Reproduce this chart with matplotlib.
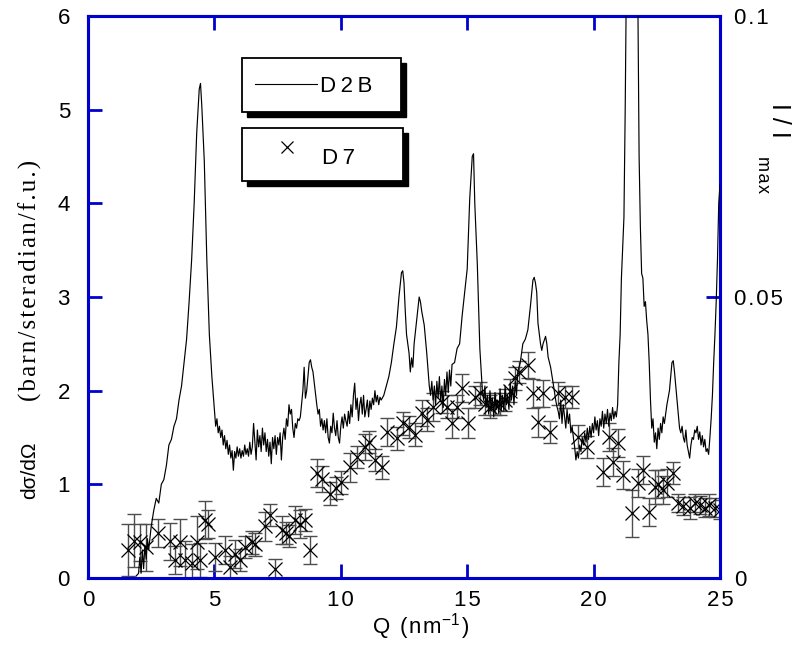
import numpy as np
import matplotlib
matplotlib.use("Agg")
import matplotlib.pyplot as plt
from matplotlib.patches import Rectangle
from matplotlib.lines import Line2D

plt.rcParams['font.family'] = ['Liberation Sans', 'DejaVu Sans']
plt.rcParams['mathtext.fontset'] = 'custom'
plt.rcParams['mathtext.rm'] = 'Liberation Sans'

BLUE = '#0000cc'

# D2B diffraction pattern, read in barn/sr/f.u. units of the left axis
d2b_q = [1.9, 2.0, 2.05, 2.1, 2.15, 2.2, 2.25, 2.3, 2.35, 2.4, 2.5, 2.6, 2.7, 2.8, 2.9,
         3.0, 3.1, 3.2, 3.3, 3.4, 3.5, 3.6, 3.7, 3.8, 3.9, 4.0, 4.1, 4.2, 4.3, 4.4,
         4.45, 4.5, 4.6, 4.7, 4.8, 4.9, 5.0, 5.05, 5.1, 5.15, 5.2, 5.25, 5.3, 5.35, 5.4,
         5.45, 5.5, 5.55, 5.6, 5.65, 5.7, 5.75, 5.8, 5.85, 5.9, 5.95, 6.0, 6.05, 6.1, 6.15,
         6.2, 6.25, 6.3, 6.35, 6.4, 6.45, 6.5, 6.55, 6.6, 6.65, 6.7, 6.75, 6.8, 6.85, 6.9,
         6.95, 7.0, 7.05, 7.1, 7.15, 7.2, 7.25, 7.3, 7.35, 7.4, 7.45, 7.5, 7.55, 7.6, 7.65,
         7.7, 7.75, 7.8, 7.85, 7.9, 7.95, 8.0, 8.05, 8.1, 8.15, 8.2, 8.25, 8.3, 8.35, 8.4,
         8.5, 8.55, 8.6, 8.65, 8.7, 8.75, 8.8, 8.85, 8.9, 8.95, 9.0, 9.05, 9.1, 9.15, 9.2,
         9.25, 9.3, 9.35, 9.4, 9.45, 9.5, 9.55, 9.6, 9.65, 9.7, 9.75, 9.8, 9.85, 9.9, 9.95,
         10.0, 10.05, 10.1, 10.15, 10.2, 10.25, 10.3, 10.35, 10.4, 10.45, 10.5, 10.55, 10.6, 10.65, 10.7,
         10.75, 10.8, 10.85, 10.9, 10.95, 11.0, 11.05, 11.1, 11.15, 11.2, 11.25, 11.3, 11.35, 11.4, 11.45,
         11.5, 11.55, 11.6, 11.7, 11.8, 11.9, 12.0, 12.1, 12.2, 12.3, 12.4, 12.45, 12.5, 12.55, 12.6,
         12.7, 12.75, 12.8, 12.85, 12.9, 13.0, 13.1, 13.15, 13.2, 13.3, 13.4, 13.5, 13.55, 13.6, 13.65,
         13.7, 13.75, 13.8, 13.85, 13.9, 13.95, 14.0, 14.05, 14.1, 14.15, 14.2, 14.25, 14.3, 14.35, 14.4,
         14.5, 14.6, 14.7, 14.8, 14.9, 15.0, 15.1, 15.2, 15.25, 15.3, 15.4, 15.5, 15.6, 15.65, 15.7,
         15.75, 15.8, 15.85, 15.9, 15.95, 16.0, 16.05, 16.1, 16.15, 16.2, 16.25, 16.3, 16.35, 16.4, 16.45,
         16.5, 16.55, 16.6, 16.65, 16.7, 16.75, 16.8, 16.85, 16.9, 16.95, 17.0, 17.1, 17.2, 17.3, 17.4,
         17.5, 17.6, 17.65, 17.7, 17.75, 17.8, 17.9, 17.95, 18.0, 18.1, 18.15, 18.2, 18.3, 18.4, 18.5,
         18.55, 18.6, 18.65, 18.7, 18.75, 18.8, 18.85, 18.9, 18.95, 19.0, 19.05, 19.1, 19.15, 19.2, 19.25,
         19.3, 19.35, 19.4, 19.45, 19.5, 19.55, 19.6, 19.65, 19.7, 19.75, 19.8, 19.85, 19.9, 19.95, 20.0,
         20.05, 20.1, 20.15, 20.2, 20.25, 20.3, 20.35, 20.4, 20.45, 20.5, 20.55, 20.6, 20.65, 20.7, 20.75,
         20.8, 20.85, 20.9, 20.95, 21.0, 21.05, 21.1, 21.2, 21.25, 21.3, 21.4, 21.5, 21.6, 21.7, 21.75,
         21.8, 21.85, 21.9, 21.95, 22.0, 22.05, 22.1, 22.15, 22.2, 22.25, 22.3, 22.35, 22.4, 22.45, 22.5,
         22.55, 22.6, 22.65, 22.7, 22.75, 22.8, 22.9, 23.0, 23.1, 23.15, 23.2, 23.3, 23.4, 23.45, 23.5,
         23.55, 23.6, 23.65, 23.7, 23.75, 23.8, 23.85, 23.9, 23.95, 24.0, 24.05, 24.1, 24.15, 24.2, 24.25,
         24.3, 24.35, 24.4, 24.45, 24.5, 24.55, 24.6, 24.65, 24.7, 24.75, 24.8, 24.85, 24.9, 24.95, 25.0]
d2b_v = [0.02, 0.05, 0.22, 0.05, 0.30, 0.10, 0.35, 0.20, 0.42, 0.30, 0.55, 0.72, 0.85, 0.80, 1.00,
         1.05, 1.20, 1.42, 1.48, 1.62, 1.70, 1.90, 2.05, 2.30, 2.55, 2.95, 3.40, 4.00, 4.75, 5.22,
         5.28, 5.05, 4.45, 3.40, 2.60, 2.15, 1.80, 1.62, 1.70, 1.55, 1.62, 1.50, 1.58, 1.42, 1.52,
         1.38, 1.47, 1.32, 1.42, 1.28, 1.36, 1.15, 1.35, 1.28, 1.40, 1.30, 1.38, 1.28, 1.36, 1.30,
         1.42, 1.32, 1.38, 1.30, 1.45, 1.32, 1.40, 1.65, 1.45, 1.26, 1.58, 1.40, 1.52, 1.35, 1.60,
         1.42, 1.55, 1.35, 1.48, 1.30, 1.45, 1.22, 1.50, 1.38, 1.52, 1.32, 1.50, 1.42, 1.55, 1.26,
         1.50, 1.60, 1.48, 1.70, 1.62, 1.85, 1.75, 1.80, 1.60, 1.50, 1.65, 1.60, 1.70, 1.68, 1.72,
         2.00, 2.25, 1.92, 2.00, 2.15, 2.30, 2.33, 2.25, 2.20, 2.08, 1.95, 1.85, 1.75, 1.80, 1.62,
         1.70, 1.58, 1.68, 1.55, 1.70, 1.50, 1.44, 1.62, 1.55, 1.76, 1.60, 1.52, 1.68, 1.50, 1.44,
         1.62, 1.72, 1.60, 1.75, 1.68, 1.62, 1.78, 1.65, 1.85, 1.72, 1.95, 2.08, 1.80, 1.92, 1.68,
         1.85, 1.93, 1.75, 1.95, 1.72, 1.80, 1.90, 1.72, 1.89, 1.80, 1.92, 1.85, 2.00, 1.88, 1.95,
         1.85, 1.93, 1.90, 1.95, 2.05, 2.15, 2.30, 2.50, 2.68, 3.00, 3.26, 3.28, 3.15, 2.85, 2.60,
         2.40, 2.20, 2.35, 2.25, 2.50, 2.75, 3.00, 2.95, 2.85, 2.70, 2.40, 2.05, 1.95, 2.10, 1.90,
         2.05, 1.85, 2.10, 1.92, 2.15, 1.88, 2.05, 1.82, 2.12, 1.95, 2.20, 1.98, 2.22, 2.05, 2.28,
         2.30, 2.45, 2.50, 2.80, 3.05, 3.30, 4.05, 4.50, 4.53, 4.00, 3.35, 2.45, 2.00, 1.90, 2.05,
         1.82, 1.95, 1.75, 2.00, 1.80, 1.92, 1.72, 1.98, 1.80, 1.90, 1.75, 2.02, 1.80, 1.95, 1.78,
         2.05, 1.85, 1.95, 1.80, 2.08, 1.90, 2.05, 1.85, 2.10, 1.95, 2.20, 2.30, 2.50, 2.55, 2.65,
         2.90, 3.18, 3.21, 3.15, 3.05, 2.72, 2.50, 2.43, 2.50, 2.58, 2.50, 2.36, 2.25, 2.08, 1.90,
         1.83, 1.78, 1.70, 1.90, 1.65, 1.85, 1.72, 1.60, 1.80, 1.65, 1.75, 1.55, 1.62, 1.50, 1.40,
         1.26, 1.35, 1.28, 1.42, 1.35, 1.50, 1.42, 1.55, 1.45, 1.60, 1.48, 1.62, 1.50, 1.65, 1.55,
         1.72, 1.58, 1.68, 1.52, 1.70, 1.62, 1.78, 1.60, 1.75, 1.65, 1.80, 1.62, 1.76, 1.68, 1.82,
         1.70, 1.78, 1.72, 1.85, 2.30, 2.60, 3.20, 3.85, 5.00, 6.50, 9.00, 10.0, 9.50, 7.50, 6.20,
         4.50, 3.75, 3.25, 3.20, 2.90, 2.95, 2.75, 2.60, 2.30, 1.90, 1.60, 1.70, 1.45, 1.55, 1.38,
         1.60, 1.48, 1.65, 1.55, 1.72, 1.65, 1.85, 2.00, 2.30, 2.32, 2.20, 1.90, 1.60, 1.55, 1.62,
         1.50, 1.45, 1.58, 1.42, 1.35, 1.28, 1.42, 1.50, 1.48, 1.58, 1.55, 1.62, 1.48, 1.56, 1.42,
         1.52, 1.40, 1.48, 1.35, 1.38, 1.32, 1.50, 1.70, 1.95, 2.30, 2.60, 2.95, 3.40, 4.00, 4.20]

# D7 polarised cross section with error bars
d7_q = [1.6, 1.8, 2.05, 2.3, 2.78, 3.23, 3.45, 3.64, 3.84, 4.1, 4.3, 4.43, 4.63, 4.75, 5.02,
        5.42, 5.62, 5.81, 6.01, 6.2, 6.48, 6.6, 7.0, 7.2, 7.4, 7.67, 7.85, 7.97, 8.2, 8.4,
        8.58, 8.78, 9.06, 9.25, 9.57, 9.8, 10.0, 10.36, 10.64, 10.96, 11.1, 11.35, 11.63, 11.82, 12.22,
        12.46, 12.7, 12.95, 13.2, 13.4, 13.65, 14.0, 14.2, 14.4, 14.6, 14.8, 15.03, 15.3, 15.5, 15.7,
        15.9, 16.1, 16.3, 16.5, 16.7, 16.9, 17.05, 17.4, 17.6, 17.8, 18.0, 18.27, 18.6, 18.85, 19.15,
        19.38, 19.73, 20.37, 20.6, 20.77, 20.97, 21.17, 21.52, 21.76, 21.97, 22.2, 22.43, 22.55, 22.75, 22.9,
        23.15, 23.35, 23.55, 23.8, 24.0, 24.2, 24.4, 24.55, 24.8, 25.0]
d7_v = [0.30, 0.40, 0.38, 0.33, 0.48, 0.39, 0.19, 0.38, 0.19, 0.16, 0.38, 0.19, 0.62, 0.58, 0.22,
        0.30, 0.12, 0.26, 0.19, 0.33, 0.38, 0.36, 0.55, 0.67, 0.10, 0.51, 0.48, 0.45, 0.62, 0.58,
        0.62, 0.30, 1.12, 1.06, 0.90, 0.96, 1.02, 1.18, 1.29, 1.40, 1.45, 1.26, 1.18, 1.56, 1.49,
        1.65, 1.61, 1.53, 1.76, 1.69, 1.83, 1.88, 1.83, 1.65, 1.83, 2.03, 1.65, 1.93, 1.97, 1.86,
        1.83, 1.86, 1.86, 1.90, 2.00, 2.13, 2.20, 2.27, 1.97, 1.67, 1.97, 1.56, 1.97, 1.93, 1.93,
        1.51, 1.40, 1.13, 1.51, 1.24, 1.44, 1.10, 0.69, 1.01, 1.15, 0.70, 0.97, 1.00, 0.94, 1.01,
        1.12, 0.80, 0.77, 0.75, 0.80, 0.78, 0.75, 0.78, 0.75, 0.73]
d7_err = [0.28, 0.28, 0.20, 0.25, 0.15, 0.20, 0.15, 0.25, 0.20, 0.20, 0.28, 0.18, 0.20, 0.15, 0.15,
          0.15, 0.12, 0.15, 0.12, 0.12, 0.12, 0.12, 0.15, 0.12, 0.10, 0.15, 0.12, 0.12, 0.15, 0.15,
          0.12, 0.15, 0.15, 0.14, 0.12, 0.12, 0.12, 0.15, 0.12, 0.14, 0.12, 0.12, 0.12, 0.15, 0.12,
          0.12, 0.12, 0.12, 0.14, 0.12, 0.15, 0.12, 0.12, 0.15, 0.12, 0.15, 0.16, 0.12, 0.12, 0.12,
          0.12, 0.12, 0.12, 0.12, 0.12, 0.12, 0.12, 0.14, 0.15, 0.16, 0.14, 0.12, 0.12, 0.12, 0.12,
          0.12, 0.12, 0.15, 0.15, 0.15, 0.15, 0.15, 0.25, 0.15, 0.15, 0.15, 0.18, 0.15, 0.15, 0.15,
          0.12, 0.10, 0.10, 0.12, 0.10, 0.10, 0.10, 0.12, 0.10, 0.10]

x_ticks = [0, 5, 10, 15, 20, 25]
x_ticklabels = ['0', '5', '10', '15', '20', '25']
y_ticks = [0, 1, 2, 3, 4, 5, 6]
y_ticklabels = ['0', '1', '2', '3', '4', '5', '6']
r_ticks = [0, 0.05, 0.1]
r_ticklabels = ['0', '0.05', '0.1']


def spaced(s, sep='\u200a'):
    # the original uses loosely tracked lettering
    return sep.join(s)


fig = plt.figure(figsize=(7.99, 6.62), dpi=100)
ax = fig.add_axes([88 / 799, 1 - 578 / 662, (720 - 88) / 799, (578 - 16) / 662])
ax2 = ax.twinx()

# D7 on the cross-section axis
ax.errorbar(d7_q, d7_v, yerr=d7_err, fmt='none', ecolor='0.3', elinewidth=1.0,
            capsize=5, capthick=1.0, zorder=2)
ax.plot(d7_q, d7_v, 'x', color='black', markersize=10, markeredgewidth=0.9, zorder=3)

# D2B on the normalised intensity axis (0.1 of I/Imax <-> 6 barn/sr/f.u.)
d2b_i = np.array(d2b_v) / 60.0
ax2.plot(d2b_q, d2b_i, '-', color='black', linewidth=0.85, zorder=4)

ax.set_xlim(0, 25)
ax.set_ylim(0, 6)
ax2.set_ylim(0, 0.1)
ax.set_xticks(x_ticks)
ax.set_xticklabels([spaced(t) for t in x_ticklabels])
ax.set_yticks(y_ticks)
ax.set_yticklabels(y_ticklabels)
ax2.set_yticks(r_ticks)
ax2.set_yticklabels([spaced(t) for t in r_ticklabels])

for a in (ax, ax2):
    for s in a.spines.values():
        s.set_color(BLUE)
        s.set_linewidth(2.2)
ax.tick_params(axis='x', which='both', direction='in', length=10, width=2, color=BLUE,
               top=True, labelsize=16, pad=9)
ax.tick_params(axis='y', direction='in', length=10, width=2, color=BLUE, labelsize=16, pad=13)
ax2.tick_params(axis='y', direction='in', length=10, width=2, color=BLUE, labelsize=16, pad=10)

# axis titles
fig.text(421 / 799, 1 - 627 / 662, spaced('Q (nm') + '$^{\\mathregular{-1}}$' + '\u200a)',
         ha='center', va='center', fontsize=16)
fig.text(30 / 799, 1 - 470 / 662, 'd\u03c3/d\u03a9', rotation=90, ha='center', va='center',
         fontsize=15)
fig.text(30 / 799, 1 - 280 / 662, spaced('(barn/steradian/f.u.)'), rotation=90,
         ha='center', va='center', fontsize=18, family=['Liberation Serif', 'DejaVu Serif'])
fig.text(779 / 799, 1 - 120 / 662, 'I / I', rotation=270, ha='center', va='center',
         fontsize=18)
fig.text(763 / 799, 1 - 175 / 662, spaced('max'), rotation=270, ha='center', va='center',
         fontsize=13)

# legend boxes with drop shadows
def legend_box(x0, y0, x1, y1):
    w = (x1 - x0) / 799
    h = (y1 - y0) / 662
    fig.add_artist(Rectangle((x0 / 799 + 5 / 799, 1 - y1 / 662 - 5 / 662), w, h,
                             facecolor='black', edgecolor='black', zorder=10))
    fig.add_artist(Rectangle((x0 / 799, 1 - y1 / 662), w, h, facecolor='white',
                             edgecolor='black', linewidth=1.3, zorder=11))

legend_box(242, 58, 401, 112)
legend_box(242, 128, 403, 181)
fig.add_artist(Line2D([255 / 799, 317 / 799], [1 - 84 / 662, 1 - 84 / 662], color='black',
                      linewidth=0.8, zorder=12))
fig.text(320 / 799, 1 - 87 / 662, spaced('D2B', '\u2009'), ha='left', va='center',
         fontsize=16, zorder=12)
fig.add_artist(Line2D([287 / 799], [1 - 147 / 662], marker='x', color='black',
                      markersize=8, markeredgewidth=0.9, zorder=12))
fig.text(322 / 799, 1 - 159 / 662, spaced('D7', '\u2009'), ha='left', va='center',
         fontsize=16, zorder=12)

fig.savefig('out.png', dpi=100)
